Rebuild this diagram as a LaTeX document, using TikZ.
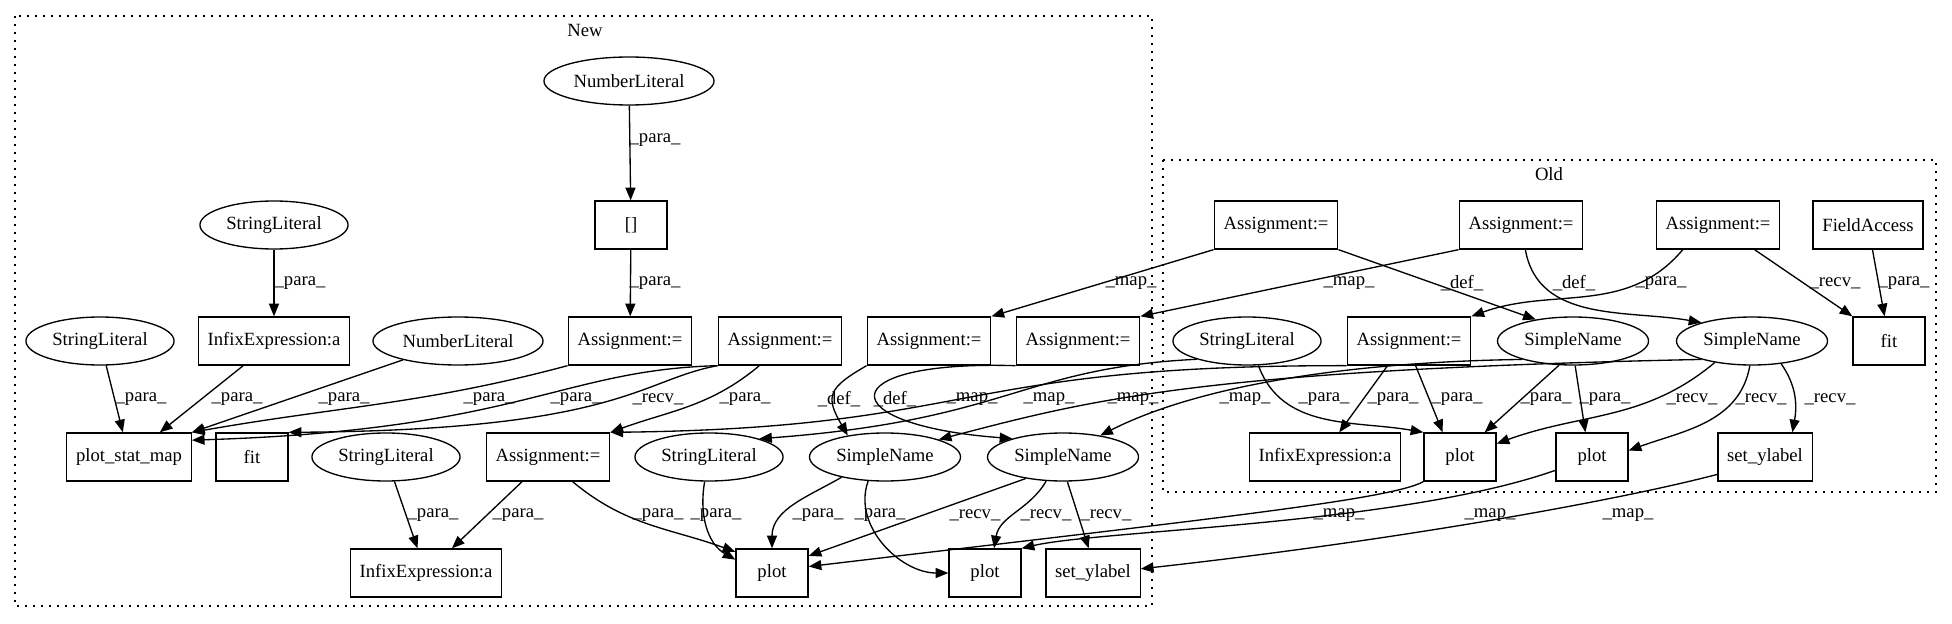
\documentclass[tikz,border=0pt]{standalone}
\usepackage{fontspec}
\setmainfont{Liberation Serif}
\usetikzlibrary{shapes.geometric,arrows.meta}

\begin{document}
\begin{tikzpicture}[x=0.75pt,y=-0.75pt,
	every node/.style={font=\fontsize{14pt}{16pt}\selectfont},
	box/.style={draw,line width=1pt,rectangle,minimum width=54pt,minimum height=36pt,inner xsep=7pt},
	oval/.style={draw,line width=1pt,ellipse,minimum height=36pt,inner xsep=3.5pt},
	link/.style={line width=1pt,-{Triangle[length=9.5pt,width=7.5pt]}},
	lbl/.style={inner sep=0pt},
	cluster/.style={line width=1pt,dash pattern=on 1.2pt off 4.8pt}]
	\useasboundingbox (0,0) rectangle (1952,624);

	\draw[cluster] (15,16) rectangle (1152,606);
	\draw[cluster] (1163,160) rectangle (1936,492);
	\node (newname) at (585,30) {New};
	\node (oldname) at (1549,174) {Old};

	% New
	\node[oval] (nNumA) at (629,81) {NumberLiteral};
	\node[box] (nBrk) at (631,225) {[]};
	\node[oval] (nStrA) at (274,225) {StringLiteral};
	\node[oval] (nStrB) at (100,341) {StringLiteral};
	\node[box] (nInfA) at (274,341) {InfixExpression:a};
	\node[oval] (nNumB) at (458,341) {NumberLiteral};
	\foreach \x/\nm in {630/nAsA,780/nAsB,929/nAsC,1078/nAsD}
		\node[box] (\nm) at (\x,341) {Assignment:=};
	\node[box] (nPsm) at (129,457) {plot\_stat\_map};
	\node[box] (nFit) at (252,457) {fit};
	\node[oval] (nStrC) at (386,457) {StringLiteral};
	\node[box] (nAsE) at (548,457) {Assignment:=};
	\node[oval] (nStrD) at (709,457) {StringLiteral};
	\node[oval] (nSnA) at (885,457) {SimpleName};
	\node[oval] (nSnB) at (1063,457) {SimpleName};
	\node[box] (nInfB) at (426,573) {InfixExpression:a};
	\node[box] (nPlotA) at (772,573) {plot};
	\node[box] (nPlotB) at (985,573) {plot};
	\node[box] (nYlab) at (1093,573) {set\_ylabel};

	% Old
	\foreach \x/\nm in {1276/oAsA,1521/oAsB,1718/oAsC}
		\node[box] (\nm) at (\x,225) {Assignment:=};
	\node[box] (oFld) at (1868,225) {FieldAccess};
	\node[oval] (oStr) at (1247,341) {StringLiteral};
	\node[box] (oAsD) at (1409,341) {Assignment:=};
	\node[oval] (oSnA) at (1573,341) {SimpleName};
	\node[oval] (oSnB) at (1752,341) {SimpleName};
	\node[box] (oFit) at (1889,341) {fit};
	\node[box] (oInf) at (1325,457) {InfixExpression:a};
	\node[box] (oPlotA) at (1460,457) {plot};
	\node[box] (oPlotB) at (1592,457) {plot};
	\node[box] (oYlab) at (1765,457) {set\_ylabel};

	\foreach \a/\b in {nNumA/nBrk, nBrk/nAsA, nStrA/nInfA, nStrB/nPsm, nInfA/nPsm, nStrC/nInfB, nAsE/nInfB, oFld/oFit}
		\draw[link] (\a) -- (\b);
	\draw[link] (nNumB) -- (nPsm.north east);
	\draw[link] (nAsA.south west) to[out=195,in=10] (nPsm.north east);
	\draw[link] (nAsB.south west) .. controls (560,370) and (520,430) .. (nPsm.15);
	\draw[link] (nAsB.south west) .. controls (640,380) and (620,430) .. (nFit.north east);
	\draw[link] (nAsB.-130) to[out=220,in=20] (nAsE.north east);
	\draw[link] (nAsC.south west) to[out=210,in=120,looseness=1.6] (nSnA.150);
	\draw[link] (nAsD.south west) .. controls (830,360) and (830,425) .. (nSnB.160);
	\draw[link] (nAsE.-45) to[out=-40,in=160] (nPlotA.150);
	\draw[link] (nStrD.-100) to[out=-100,in=150] (nPlotA.160);
	\draw[link] (nSnA.-155) to[out=210,in=90] (nPlotA.north);
	\draw[link] (nSnA.-125) to[out=-110,in=180] (nPlotB.west);
	\draw[link] (nSnB.-150) -- (nPlotA.25);
	\draw[link] (nSnB.-125) to[out=-120,in=80] (nPlotB.70);
	\draw[link] (nSnB.-80) -- (nYlab.100);

	\draw[link] (oAsA.south east) -- (oSnA.150);
	\draw[link] (oAsB.-80) to[out=-80,in=170] (oSnB.160);
	\draw[link] (oAsC.-145) to[out=-130,in=20] (oAsD.north east);
	\draw[link] (oAsC.-34) -- (oFit.north west);
	\draw[link] (oStr.-65) to[out=-70,in=170] (oPlotA.north west);
	\draw[link] (oAsD.-131) -- (oInf.60);
	\draw[link] (oAsD.-75) -- (oPlotA.125);
	\draw[link] (oSnA.-120) -- (oPlotA.45);
	\draw[link] (oSnA.-85) -- (oPlotB.105);
	\draw[link] (oSnB.-150) to[out=-140,in=20] (oPlotA.20);
	\draw[link] (oSnB.-95) to[out=-100,in=20] (oPlotB.10);
	\draw[link] (oSnB.-38) to[out=-55,in=80] (oYlab.42);

	% maps
	\draw[link] (oAsA.south west) -- (nAsC.north east);
	\draw[link] (oAsB.south west) -- (nAsD.north east);
	\draw[link] (oAsD.south west) .. controls (950,365) and (980,428) .. (nAsE.north east);
	\draw[link] (oStr.200) .. controls (1020,368) and (1010,420) .. (nStrD.20);
	\draw[link] (oSnB.200) .. controls (1200,370) and (1090,400) .. (nSnA.18);
	\draw[link] (oSnA.200) .. controls (1350,362) and (1200,385) .. (nSnB.30);
	\draw[link] (oPlotA.south west) .. controls (1390,500) and (1200,520) .. (nPlotA.10);
	\draw[link] (oPlotB.200) .. controls (1400,525) and (1100,530) .. (nPlotB.north east);
	\draw[link] (oYlab.200) .. controls (1620,500) and (1400,540) .. (nYlab.5);

	\foreach \x/\y/\lab [count=\i] in {655/140/para, 655/283/para, 300/283/para, 1131/283/map,
		141/399/para, 237/399/para, 344/399/para, 489/399/para, 576/399/para, 658/399/recv, 745/399/para,
		839/399/def, 895/399/def, 972/399/map, 1049/399/map, 1133/399/map,
		433/515/para, 518/515/para, 658/515/para, 716/515/para, 818/515/para, 880/515/para,
		975/515/recv, 1046/515/recv, 1106/515/recv}
		\node[lbl] (ln\i) at (\x,\y) {\_\lab\_};
	\foreach \x/\y/\lab [count=\i] in {1349/283/map, 1462/283/def, 1574/283/def, 1661/283/para, 1835/283/recv, 1904/283/para,
		1245/399/map, 1324/399/para, 1393/399/para, 1457/399/para, 1546/399/para, 1605/399/para,
		1692/399/recv, 1761/399/recv, 1830/399/recv,
		1339/515/map, 1490/515/map, 1628/515/map}
		\node[lbl] (lo\i) at (\x,\y) {\_\lab\_};
\end{tikzpicture}
\end{document}
